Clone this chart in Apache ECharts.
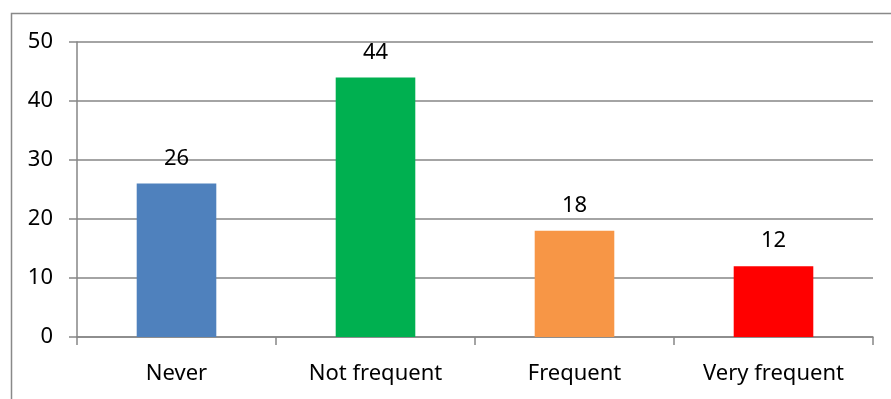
<!DOCTYPE html>
<html>
<head>
<meta charset="utf-8">
<script src="https://cdn.jsdelivr.net/npm/echarts@6/dist/echarts.min.js"></script>
<style>html,body{margin:0;padding:0;background:#fff;}#c{width:891px;height:399px;}</style>
</head>
<body>
<div id="c"></div>
<script>
var categories = ['Never', 'Not frequent', 'Frequent', 'Very frequent'];
var values = [26, 44, 18, 12];
var colors = ['#4F81BD', '#00B050', '#F79646', '#FF0000'];
var yMin = 0, yMax = 50, yStep = 10;

var font = '"Noto Sans", sans-serif';
var chart = echarts.init(document.getElementById('c'), null, {renderer: 'canvas'});
chart.setOption({
  animation: false,
  backgroundColor: '#fff',
  graphic: [{
    type: 'rect', left: 9, top: 11, silent: true,
    shape: {x: 0, y: 0, width: 1000, height: 500},
    style: {fill: 'none', stroke: '#898989', lineWidth: 1.5}
  }],
  grid: {left: 77, right: 18, top: 42, bottom: 62, containLabel: false},
  xAxis: {
    type: 'category', data: categories,
    axisLine: {lineStyle: {color: '#868686', width: 1.5}},
    axisTick: {show: true, length: 8, lineStyle: {color: '#868686', width: 1.5}},
    axisLabel: {color: '#000', fontSize: 22, fontFamily: font, margin: 26}
  },
  yAxis: {
    type: 'value', min: yMin, max: yMax, interval: yStep,
    axisLine: {show: true, lineStyle: {color: '#868686', width: 1.5}},
    axisTick: {show: true, length: 8, lineStyle: {color: '#868686', width: 1.5}},
    splitLine: {lineStyle: {color: '#868686', width: 1.5}},
    axisLabel: {color: '#000', fontSize: 22, fontFamily: font, margin: 24}
  },
  series: [{
    type: 'bar', barWidth: '40%',
    data: values.map(function (v, i) { return {value: v, itemStyle: {color: colors[i]}}; }),
    label: {show: true, position: 'top', distance: 14, color: '#000', fontSize: 22, fontFamily: font}
  }]
});
</script>
</body>
</html>
